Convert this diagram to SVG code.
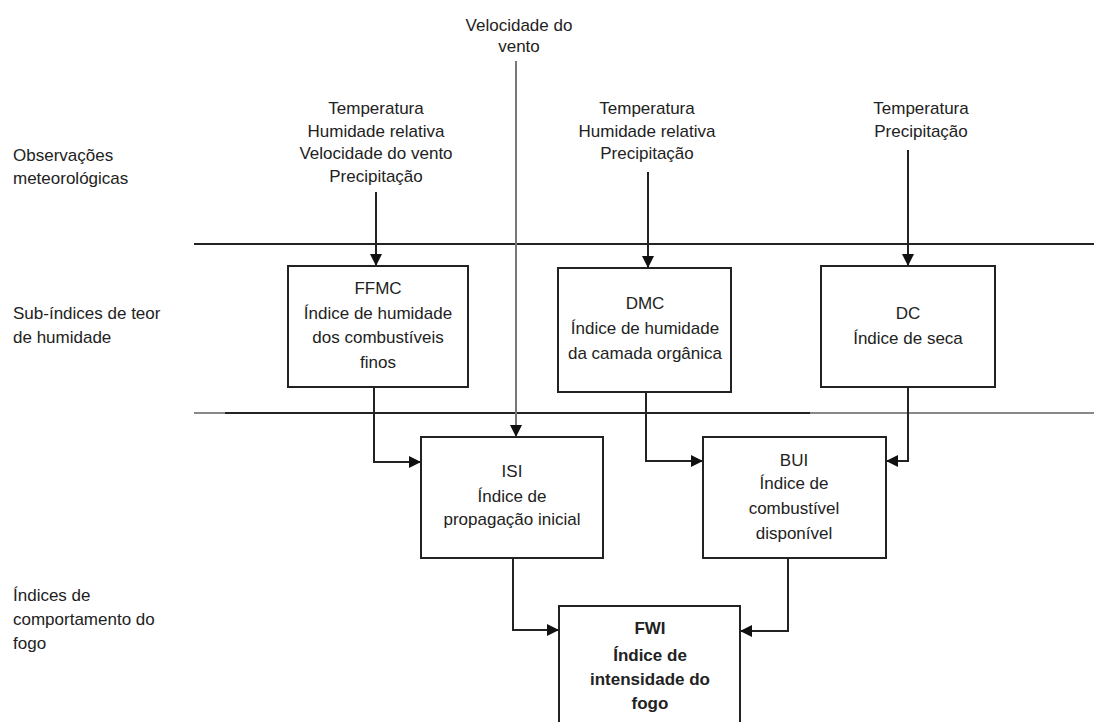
<svg xmlns="http://www.w3.org/2000/svg" width="1094" height="722" viewBox="0 0 1094 722">
<defs>
<marker id="ah" viewBox="0 0 12 12" refX="12" refY="6" markerWidth="12" markerHeight="12" markerUnits="userSpaceOnUse" orient="auto">
<path d="M0,0 L12,6 L0,12 Z" fill="#111"/>
</marker>
</defs>
<style>
text{font-family:"Liberation Sans",Arial,sans-serif;font-size:17px;fill:#222}
.c{text-anchor:middle}
.b{font-weight:bold}
.box{fill:#fff;stroke:#222;stroke-width:2}
.ln{fill:none;stroke:#222;stroke-width:2}
.ar{fill:none;stroke:#222;stroke-width:2;marker-end:url(#ah)}
</style>
<rect width="1094" height="722" fill="#fff"/>
<g id="dividers">
<line x1="194" y1="244" x2="1094" y2="244" class="ln"/>
<line x1="194" y1="413" x2="1094" y2="413" stroke="#888" stroke-width="2"/>
<line x1="225" y1="413" x2="810" y2="413" class="ln"/>
</g>
<g id="row-labels">
<text x="13" y="161">Observações</text>
<text x="13" y="184">meteorológicas</text>
<text x="13" y="319">Sub-índices de teor</text>
<text x="13" y="343">de humidade</text>
<text x="13" y="601">Índices de</text>
<text x="13" y="625">comportamento do</text>
<text x="13" y="649">fogo</text>
</g>
<g id="inputs">
<text class="c" x="519" y="31">Velocidade do</text>
<text class="c" x="519" y="52">vento</text>
<text class="c" x="376" y="114">Temperatura</text>
<text class="c" x="376" y="137">Humidade relativa</text>
<text class="c" x="376" y="159">Velocidade do vento</text>
<text class="c" x="376" y="182">Precipitação</text>
<text class="c" x="647" y="114">Temperatura</text>
<text class="c" x="647" y="137">Humidade relativa</text>
<text class="c" x="647" y="159">Precipitação</text>
<text class="c" x="921" y="114">Temperatura</text>
<text class="c" x="921" y="137">Precipitação</text>
</g>
<g id="connectors">
<path class="ar" d="M376,192 V266"/>
<path class="ar" d="M648,172 V268"/>
<path class="ar" d="M908,150 V266"/>
<path d="M516,61 V437" fill="none" stroke="#777" stroke-width="2" marker-end="url(#ah)"/>
<path class="ar" d="M374,387 V462 H421"/>
<path class="ar" d="M646,392 V461 H703"/>
<path class="ar" d="M908,387 V461 H886"/>
<path class="ar" d="M513,558 V630 H559"/>
<path class="ar" d="M788,558 V631 H740"/>
</g>
<g id="FFMC">
<rect class="box" x="288" y="266" width="180" height="121"/>
<text class="c" x="378" y="294">FFMC</text>
<text class="c" x="378" y="319">Índice de humidade</text>
<text class="c" x="378" y="343">dos combustíveis</text>
<text class="c" x="378" y="368">finos</text>
</g>
<g id="DMC">
<rect class="box" x="558" y="268" width="173" height="124"/>
<text class="c" x="645" y="309">DMC</text>
<text class="c" x="645" y="334">Índice de humidade</text>
<text class="c" x="645" y="359">da camada orgânica</text>
</g>
<g id="DC">
<rect class="box" x="821" y="266" width="174" height="121"/>
<text class="c" x="908" y="319">DC</text>
<text class="c" x="908" y="344">Índice de seca</text>
</g>
<g id="ISI">
<rect class="box" x="421" y="437" width="182" height="121"/>
<text class="c" x="512" y="477">ISI</text>
<text class="c" x="512" y="502">Índice de</text>
<text class="c" x="512" y="525">propagação inicial</text>
</g>
<g id="BUI">
<rect class="box" x="703" y="437" width="183" height="121"/>
<text class="c" x="794" y="466">BUI</text>
<text class="c" x="794" y="489">Índice de</text>
<text class="c" x="794" y="514">combustível</text>
<text class="c" x="794" y="539">disponível</text>
</g>
<g id="FWI">
<rect class="box" x="559" y="606" width="181" height="130"/>
<text class="c b" x="650" y="634">FWI</text>
<text class="c b" x="650" y="661">Índice de</text>
<text class="c b" x="650" y="685">intensidade do</text>
<text class="c b" x="650" y="709">fogo</text>
</g>
</svg>
